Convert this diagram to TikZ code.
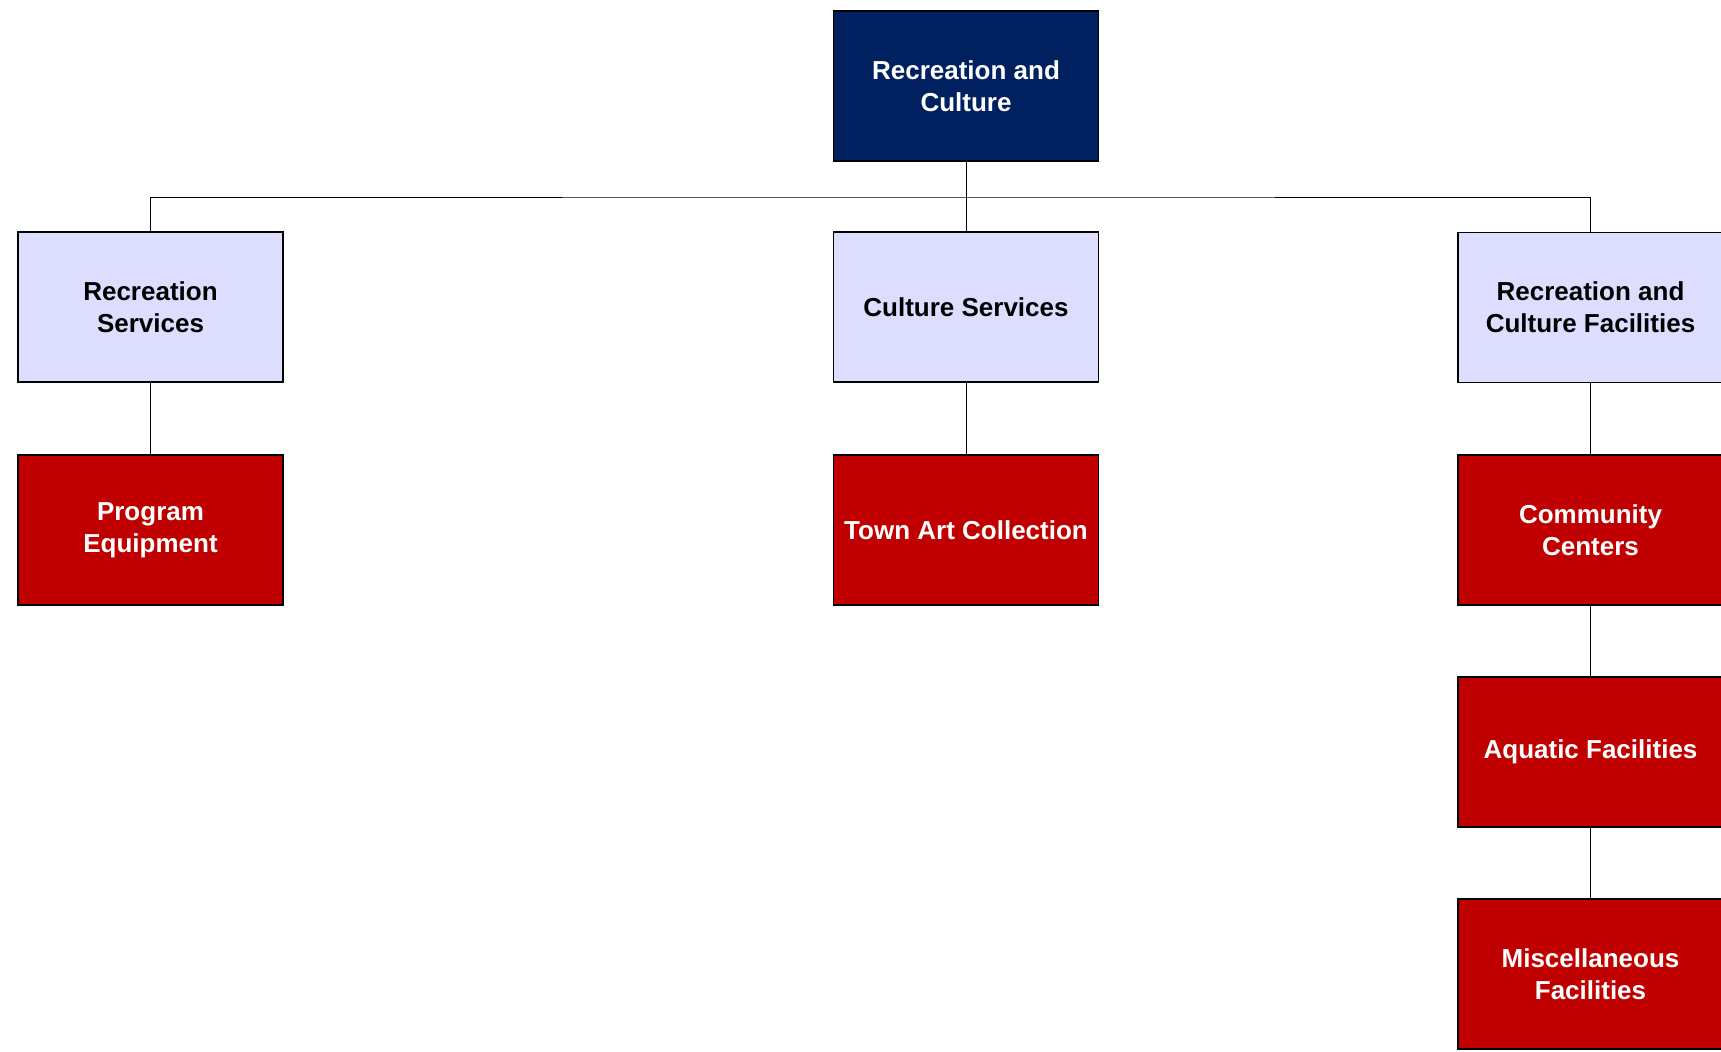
\documentclass[tikz,border=0pt]{standalone}
\usepackage{fontspec}
\setmainfont{Liberation Sans}
\definecolor{navy}{RGB}{0,32,96}
\definecolor{lav}{RGB}{221,221,255}
\definecolor{crimson}{RGB}{192,0,0}
\begin{document}
\begin{tikzpicture}[x=0.75pt,y=-0.75pt,
  box/.style={draw=black,line width=1pt,minimum width=265*0.75pt,minimum height=150*0.75pt,
    inner sep=0pt,align=center,font=\fontsize{19.5}{24}\selectfont\bfseries},
  topbox/.style={box,fill=navy,text=white},
  midbox/.style={box,fill=lav,text=black},
  leafbox/.style={box,fill=crimson,text=white},
  link/.style={draw=black,line width=0.75pt}]
\useasboundingbox (0,0) rectangle (1721,1051);
\fill[white] (0,0) rectangle (1721,1051);

% level 1
\node[topbox] (top) at (966,86) {Recreation and\\Culture};
% level 2
\node[midbox] (rs) at (150.5,307) {Recreation\\Services};
\node[midbox] (cs) at (966,307) {Culture Services};
\node[midbox] (rcf) at (1590.5,307.5) {Recreation and\\Culture Facilities};
% level 3 and below
\node[leafbox] (pe) at (150.5,530) {Program\\Equipment};
\node[leafbox] (tac) at (966,530) {Town Art Collection};
\node[leafbox] (cc) at (1590.5,530) {Community\\Centers};
\node[leafbox] (aq) at (1590.5,752) {Aquatic Facilities};
\node[leafbox] (misc) at (1590.5,974) {Miscellaneous\\Facilities};

% connectors
\coordinate (bus) at (966,197);
\draw[link] (top.south) -- (cs.north);
\draw[link] (rs.north) |- (bus) -| (rcf.north);
\draw[link] (rs.south) -- (pe.north);
\draw[link] (cs.south) -- (tac.north);
\draw[link] (rcf.south) -- (cc.north);
\draw[link] (cc.south) -- (aq.north);
\draw[link] (aq.south) -- (misc.north);
\end{tikzpicture}
\end{document}
